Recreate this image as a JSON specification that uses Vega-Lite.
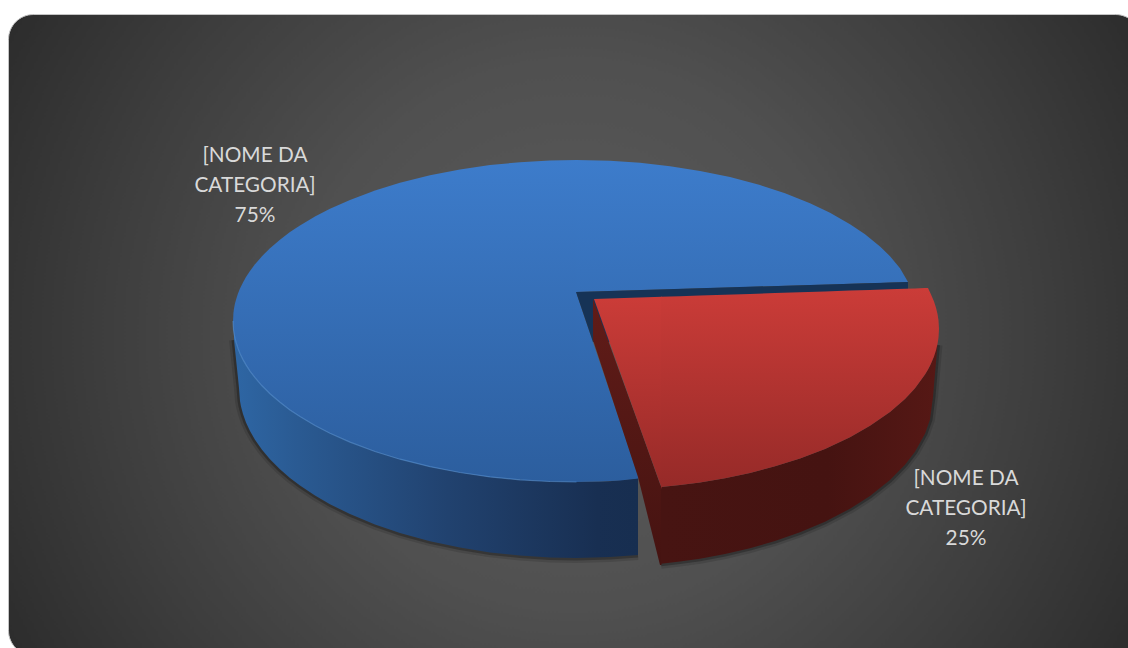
{
  "$schema": "https://vega.github.io/schema/vega-lite/v6.json",
  "width": 1132,
  "height": 641,
  "autosize": "none",
  "padding": {"left": 8, "top": 14, "right": 0, "bottom": 0},
  "background": "white",
  "view": {
    "cornerRadius": 25,
    "stroke": "#C4C4C4",
    "strokeWidth": 1,
    "fill": {
      "gradient": "radial",
      "x1": 0.5, "y1": 0.5, "r1": 0,
      "x2": 0.5, "y2": 0.5, "r2": 0.6,
      "stops": [
        {"offset": 0, "color": "#5C5C5C"},
        {"offset": 0.4, "color": "#505050"},
        {"offset": 0.7, "color": "#3D3D3D"},
        {"offset": 1, "color": "#292929"}
      ]
    }
  },
  "datasets": {
    "blueTopLeft": [
      {"x": 233, "y": 321, "y2": 321}, {"x": 233.5, "y": 312.2, "y2": 329.8},
      {"x": 234, "y": 308.7, "y2": 333.3}, {"x": 235, "y": 303.6, "y2": 338.4},
      {"x": 236, "y": 299.8, "y2": 342.2}, {"x": 238, "y": 293.6, "y2": 348.4},
      {"x": 240, "y": 288.6, "y2": 353.4}, {"x": 243, "y": 282.4, "y2": 359.6},
      {"x": 246, "y": 277.1, "y2": 364.9}, {"x": 250, "y": 270.9, "y2": 371.1},
      {"x": 255, "y": 264.3, "y2": 377.7}, {"x": 262, "y": 256.2, "y2": 385.8},
      {"x": 270, "y": 248.3, "y2": 393.7}, {"x": 280, "y": 239.7, "y2": 402.3},
      {"x": 290, "y": 232.1, "y2": 409.9}, {"x": 300, "y": 225.4, "y2": 416.6},
      {"x": 315, "y": 216.5, "y2": 425.5}, {"x": 330, "y": 208.8, "y2": 433.2},
      {"x": 350, "y": 199.9, "y2": 442.1}, {"x": 375, "y": 190.5, "y2": 451.5},
      {"x": 400, "y": 182.8, "y2": 459.2}, {"x": 430, "y": 175.3, "y2": 466.7},
      {"x": 460, "y": 169.5, "y2": 472.5}, {"x": 490, "y": 165.1, "y2": 476.9},
      {"x": 520, "y": 162.2, "y2": 479.8}, {"x": 550, "y": 160.5, "y2": 481.5},
      {"x": 576.5, "y": 160, "y2": 482}
    ],
    "blueTopRight": [
      {"x": 576, "y": 160, "y2": 292}, {"x": 610, "y": 160.8, "y2": 291},
      {"x": 640, "y": 162.8, "y2": 290.1}, {"x": 670, "y": 166.2, "y2": 289.2},
      {"x": 700, "y": 170.9, "y2": 288.3}, {"x": 730, "y": 177.1, "y2": 287.4},
      {"x": 760, "y": 185.1, "y2": 286.5}, {"x": 785, "y": 193.3, "y2": 285.7},
      {"x": 810, "y": 203.3, "y2": 285}, {"x": 830, "y": 212.8, "y2": 284.4},
      {"x": 850, "y": 224.2, "y2": 283.8}, {"x": 865, "y": 234.3, "y2": 283.3},
      {"x": 880, "y": 246.4, "y2": 282.9}, {"x": 890, "y": 256.2, "y2": 282.5},
      {"x": 900, "y": 268.2, "y2": 282.2}, {"x": 908, "y": 281.9, "y2": 282}
    ],
    "blueTopCut": [
      {"x": 576, "y": 292, "y2": 482}, {"x": 600, "y": 363, "y2": 481.5},
      {"x": 620, "y": 422, "y2": 480.5}, {"x": 638.5, "y": 477, "y2": 478.5}
    ],
    "blueWall": [
      {"x": 234, "y": 333, "y2": 340}, {"x": 236, "y": 342, "y2": 359},
      {"x": 238, "y": 348.4, "y2": 378}, {"x": 239, "y": 350, "y2": 388},
      {"x": 240, "y": 353.4, "y2": 401}, {"x": 241, "y": 355.6, "y2": 406.5},
      {"x": 243, "y": 359.6, "y2": 414}, {"x": 246, "y": 364.9, "y2": 422.5},
      {"x": 250, "y": 371.1, "y2": 431.1}, {"x": 255, "y": 377.7, "y2": 439.8},
      {"x": 262, "y": 385.8, "y2": 449.7}, {"x": 270, "y": 393.7, "y2": 459.2},
      {"x": 280, "y": 402.3, "y2": 469.3}, {"x": 290, "y": 409.9, "y2": 477.9},
      {"x": 300, "y": 416.6, "y2": 485.5}, {"x": 315, "y": 425.5, "y2": 495.5},
      {"x": 330, "y": 433.2, "y2": 504.2}, {"x": 350, "y": 442.1, "y2": 514.1},
      {"x": 375, "y": 451.5, "y2": 524.5}, {"x": 400, "y": 459.2, "y2": 533},
      {"x": 430, "y": 466.7, "y2": 541.2}, {"x": 460, "y": 472.5, "y2": 547.6},
      {"x": 490, "y": 476.9, "y2": 552.4}, {"x": 520, "y": 479.8, "y2": 555.6},
      {"x": 550, "y": 481.5, "y2": 557.5}, {"x": 576, "y": 482, "y2": 558},
      {"x": 610, "y": 481.2, "y2": 557.1}, {"x": 638, "y": 478, "y2": 555.1}
    ],
    "navyWall": [
      {"x": 576, "y": 292, "y2": 292}, {"x": 593, "y": 291.5, "y2": 342},
      {"x": 908, "y": 282, "y2": 342}
    ],
    "redSideWall": [
      {"x": 593, "y": 299, "y2": 340}, {"x": 638, "y": 422.5, "y2": 477},
      {"x": 660, "y": 484, "y2": 565}, {"x": 661.5, "y": 487, "y2": 565}
    ],
    "redWall": [
      {"x": 661, "y": 487.1, "y2": 563.8}, {"x": 680, "y": 485.1, "y2": 561.6},
      {"x": 700, "y": 482.4, "y2": 558.7}, {"x": 725, "y": 478.2, "y2": 554},
      {"x": 750, "y": 472.9, "y2": 548.2}, {"x": 775, "y": 466.3, "y2": 541},
      {"x": 800, "y": 458.4, "y2": 532.3}, {"x": 825, "y": 448.9, "y2": 521.7},
      {"x": 850, "y": 437.2, "y2": 508.7}, {"x": 870, "y": 425.8, "y2": 496},
      {"x": 890, "y": 411.9, "y2": 480.1}, {"x": 905, "y": 398.9, "y2": 464.8},
      {"x": 915, "y": 388.2, "y2": 451.8}, {"x": 925, "y": 374.5, "y2": 433.8},
      {"x": 930, "y": 366, "y2": 419.6}, {"x": 933, "y": 359, "y2": 397},
      {"x": 934, "y": 356.4, "y2": 385}, {"x": 936, "y": 350.3, "y2": 362},
      {"x": 937.5, "y": 344.1, "y2": 345}
    ],
    "redTopLeft": [
      {"x": 594, "y": 299, "y2": 299}, {"x": 662, "y": 296.8, "y2": 489}
    ],
    "redTopArc": [
      {"x": 661, "y": 296.8, "y2": 487.1}, {"x": 680, "y": 296.2, "y2": 485.1},
      {"x": 700, "y": 295.5, "y2": 482.4}, {"x": 725, "y": 294.7, "y2": 478.2},
      {"x": 750, "y": 293.9, "y2": 472.9}, {"x": 775, "y": 293, "y2": 466.3},
      {"x": 800, "y": 292.2, "y2": 458.4}, {"x": 825, "y": 291.4, "y2": 448.9},
      {"x": 850, "y": 290.6, "y2": 437.2}, {"x": 870, "y": 289.9, "y2": 425.8},
      {"x": 890, "y": 289.3, "y2": 411.9}, {"x": 905, "y": 288.8, "y2": 398.9},
      {"x": 915, "y": 288.4, "y2": 388.2}, {"x": 925, "y": 288.1, "y2": 374.5},
      {"x": 928, "y": 288, "y2": 369.5}, {"x": 931, "y": 294.4, "y2": 363.6},
      {"x": 934, "y": 301.6, "y2": 356.4}, {"x": 936, "y": 307.7, "y2": 350.3},
      {"x": 937.5, "y": 313.9, "y2": 344.1}, {"x": 938.5, "y": 320.2, "y2": 337.8},
      {"x": 939, "y": 329, "y2": 329}
    ],
    "slices": [
      {"category": "[NOME DA\nCATEGORIA]\n75%", "share": 75, "x": 255, "y": 162},
      {"category": "[NOME DA\nCATEGORIA]\n25%", "share": 25, "x": 966, "y": 485}
    ]
  },
  "encoding": {
    "x": {"field": "x", "type": "quantitative", "axis": null, "scale": {"domain": [8, 1140], "nice": false, "zero": false}},
    "y": {"field": "y", "type": "quantitative", "axis": null, "scale": {"domain": [14, 655], "nice": false, "zero": false, "reverse": true}}
  },
  "layer": [
    {
      "data": {"name": "blueWall"},
      "mark": {"type": "line", "color": "#000000", "opacity": 0.12, "strokeWidth": 10},
      "encoding": {"y": {"field": "y2", "type": "quantitative"}}
    },
    {
      "data": {"name": "blueWall"},
      "mark": {"type": "line", "color": "#000000", "opacity": 0.25, "strokeWidth": 5},
      "encoding": {"y": {"field": "y2", "type": "quantitative"}}
    },
    {
      "data": {"name": "redWall"},
      "mark": {"type": "line", "color": "#000000", "opacity": 0.12, "strokeWidth": 10},
      "encoding": {"y": {"field": "y2", "type": "quantitative"}}
    },
    {
      "data": {"name": "redWall"},
      "mark": {"type": "line", "color": "#000000", "opacity": 0.25, "strokeWidth": 5},
      "encoding": {"y": {"field": "y2", "type": "quantitative"}}
    },
    {
      "data": {"name": "blueWall"},
      "mark": {
        "type": "area",
        "color": {
          "gradient": "linear", "x1": 0, "y1": 0, "x2": 1, "y2": 0,
          "stops": [
            {"offset": 0, "color": "#2E66A4"},
            {"offset": 0.16, "color": "#2A5A92"},
            {"offset": 0.53, "color": "#21426F"},
            {"offset": 0.9, "color": "#182F52"},
            {"offset": 1, "color": "#172E50"}
          ]
        }
      },
      "encoding": {"y2": {"field": "y2"}}
    },
    {
      "data": {"name": "blueTopLeft"},
      "mark": {
        "type": "area",
        "color": {
          "gradient": "linear", "x1": 0, "y1": 0, "x2": 0, "y2": 1,
          "stops": [{"offset": 0, "color": "#3D7CCB"}, {"offset": 1, "color": "#2C5E9E"}]
        }
      },
      "encoding": {"y2": {"field": "y2"}}
    },
    {
      "data": {"name": "blueTopRight"},
      "mark": {
        "type": "area",
        "color": {
          "gradient": "linear", "x1": 0, "y1": 0, "x2": 0, "y2": 1,
          "stops": [{"offset": 0, "color": "#3D7CCB"}, {"offset": 1, "color": "#3670B9"}]
        }
      },
      "encoding": {"y2": {"field": "y2"}}
    },
    {
      "data": {"name": "blueTopCut"},
      "mark": {
        "type": "area",
        "color": {
          "gradient": "linear", "x1": 0, "y1": 0, "x2": 0, "y2": 1,
          "stops": [{"offset": 0, "color": "#3670B9"}, {"offset": 1, "color": "#2C5E9E"}]
        }
      },
      "encoding": {"y2": {"field": "y2"}}
    },
    {
      "data": {"name": "blueTopLeft"},
      "mark": {"type": "line", "color": "#5C9BE2", "opacity": 0.5, "strokeWidth": 1.2},
      "encoding": {"y": {"field": "y2", "type": "quantitative"}}
    },
    {
      "data": {"name": "navyWall"},
      "mark": {"type": "area", "color": "#163356"},
      "encoding": {"y2": {"field": "y2"}}
    },
    {
      "data": {"name": "redSideWall"},
      "mark": {
        "type": "area",
        "color": {
          "gradient": "linear", "x1": 0, "y1": 0, "x2": 0, "y2": 1,
          "stops": [{"offset": 0, "color": "#611C18"}, {"offset": 1, "color": "#451311"}]
        }
      },
      "encoding": {"y2": {"field": "y2"}}
    },
    {
      "data": {"name": "redWall"},
      "mark": {
        "type": "area",
        "color": {
          "gradient": "linear", "x1": 0, "y1": 0, "x2": 1, "y2": 0,
          "stops": [
            {"offset": 0, "color": "#471412"},
            {"offset": 0.6, "color": "#451311"},
            {"offset": 1, "color": "#561815"}
          ]
        }
      },
      "encoding": {"y2": {"field": "y2"}}
    },
    {
      "data": {"name": "redTopLeft"},
      "mark": {
        "type": "area",
        "color": {
          "gradient": "linear", "x1": 0, "y1": 0, "x2": 0, "y2": 1,
          "stops": [{"offset": 0, "color": "#CB3C38"}, {"offset": 1, "color": "#962A28"}]
        }
      },
      "encoding": {"y2": {"field": "y2"}}
    },
    {
      "data": {"name": "redTopArc"},
      "mark": {
        "type": "area",
        "color": {
          "gradient": "linear", "x1": 0, "y1": 0, "x2": 0, "y2": 1,
          "stops": [{"offset": 0, "color": "#CB3C38"}, {"offset": 1, "color": "#962A28"}]
        }
      },
      "encoding": {"y2": {"field": "y2"}}
    },
    {
      "data": {"name": "slices"},
      "mark": {
        "type": "text", "font": "Lato", "fontSize": 20.8, "lineHeight": 30,
        "lineBreak": "\n", "align": "center", "baseline": "alphabetic", "color": "#D9D9D9"
      },
      "encoding": {"text": {"field": "category", "type": "nominal"}}
    }
  ]
}
